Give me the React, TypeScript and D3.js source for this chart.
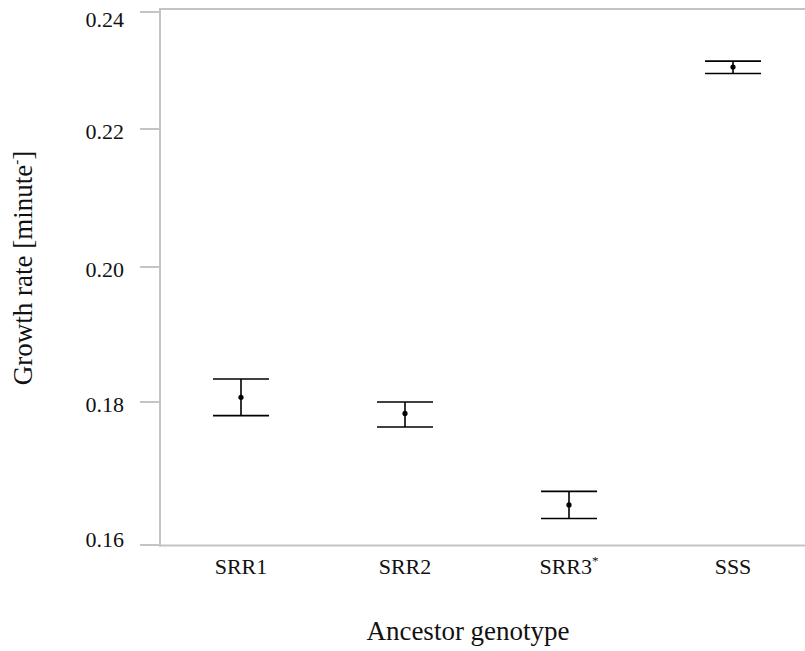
import React from "react";
import * as d3 from "d3";

// Ancestor genotypes and their growth-rate estimates (mean with lower/upper interval)
const genotypes = ["SRR1", "SRR2", "SRR3", "SSS"];
const starred = [false, false, true, false];
const means = [0.1807, 0.1784, 0.1656, 0.2306];
const lowers = [0.1781, 0.1765, 0.1637, 0.2295];
const uppers = [0.1834, 0.18, 0.1675, 0.2316];

const yTicks = [0.16, 0.18, 0.2, 0.22, 0.24];

const W = 805;
const H = 651;
const FONT = "Liberation Serif, Times New Roman, Times, serif";
const AXIS = "#c4c4c4";
const INK = "#111";
const textStyle = { fontFamily: FONT };

export default function App() {
  const left = 160;
  const bottom = 545.5;
  const top = 9;

  const x = d3.scaleBand<string>().domain(genotypes).range([159, 815]);
  // y axis as drawn in the figure: tick spacing is not uniform
  const y = d3
    .scaleLinear()
    .domain(yTicks)
    .range([545, 402, 267, 129, 12]);

  const capHalf = 28;
  // keep tick labels inside the frame's vertical extent
  const labelY = (t: number) => Math.min(Math.max(y(t) + 2, 19), 539.5);

  return (
    <svg
      width={W}
      height={H}
      style={{ position: "absolute", left: 0, top: 0, background: "#fff" }}
    >
      {/* frame: left axis, bottom axis, top line */}
      <line x1={left} y1={top} x2={left} y2={bottom + 1} stroke={AXIS} strokeWidth={2} />
      <line x1={left - 1} y1={bottom} x2={W} y2={bottom} stroke={AXIS} strokeWidth={2} />
      <line x1={left - 1} y1={top} x2={W} y2={top} stroke={AXIS} strokeWidth={2} />

      {/* y ticks */}
      {yTicks.map((t) => (
        <g key={t}>
          <line x1={140} x2={left} y1={y(t)} y2={y(t)} stroke={AXIS} strokeWidth={2} />
          <text
            x={124}
            y={labelY(t)}
            dy="0.35em"
            textAnchor="end"
            fontSize={22}
            fill={INK}
            style={textStyle}
          >
            {d3.format(".2f")(t)}
          </text>
        </g>
      ))}

      {/* x tick labels */}
      {genotypes.map((g, i) => (
        <text
          key={g}
          x={(x(g) as number) + x.bandwidth() / 2}
          y={574}
          textAnchor="middle"
          fontSize={22}
          fill={INK}
          style={textStyle}
        >
          {g}
          {starred[i] && (
            <tspan fontSize={13} dy={-9}>
              *
            </tspan>
          )}
        </text>
      ))}

      {/* error bars and means */}
      {genotypes.map((g, i) => {
        const cx = (x(g) as number) + x.bandwidth() / 2;
        return (
          <g key={g} stroke="#000" strokeWidth={1.6}>
            <line x1={cx} x2={cx} y1={y(uppers[i])} y2={y(lowers[i])} />
            <line x1={cx - capHalf} x2={cx + capHalf} y1={y(uppers[i])} y2={y(uppers[i])} />
            <line x1={cx - capHalf} x2={cx + capHalf} y1={y(lowers[i])} y2={y(lowers[i])} />
            <circle cx={cx} cy={y(means[i])} r={2.6} fill="#000" stroke="none" />
          </g>
        );
      })}

      {/* axis titles */}
      <text x={468} y={640} textAnchor="middle" fontSize={27} fill={INK} style={textStyle}>
        Ancestor genotype
      </text>
      <text
        transform={`translate(32, 268) rotate(-90)`}
        textAnchor="middle"
        fontSize={27}
        fill={INK}
        style={textStyle}
      >
        Growth rate [minute
        <tspan fontSize={15} dy={-11}>
          -
        </tspan>
        <tspan dy={11}>]</tspan>
      </text>
    </svg>
  );
}
